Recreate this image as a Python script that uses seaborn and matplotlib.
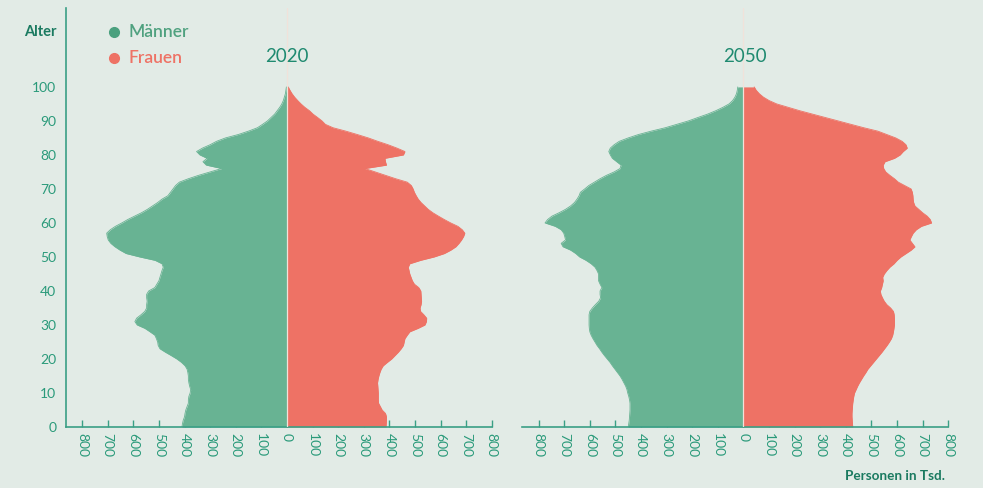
import numpy as np
import matplotlib
matplotlib.use("Agg")
import matplotlib.pyplot as plt
import seaborn as sns

# Bevölkerung nach Alter, Personen in Tsd.
ages = np.arange(0, 101)

men_2020 = [
    410, 408, 405, 400, 398, 395, 390, 385, 385, 383,
    378, 376, 380, 383, 385, 385, 387, 390, 398, 412,
    430, 452, 475, 496, 503, 505, 510, 516, 535, 555,
    585, 594, 587, 570, 555, 548, 548, 546, 548, 548,
    540, 516, 508, 500, 496, 492, 488, 483, 488, 515,
    575, 628, 652, 672, 688, 698, 702, 704, 690, 670,
    645, 622, 595, 568, 545, 525, 505, 488, 465, 455,
    445, 435, 420, 385, 345, 300, 255, 315, 328, 312,
    340, 353, 330, 300, 275, 240, 190, 150, 115, 95,
    76, 62, 48, 38, 28, 20, 14, 10, 6, 4,
    2,
]
women_2020 = [
    387, 388, 389, 389, 385, 372, 365, 358, 357, 357,
    357, 356, 355, 354, 356, 359, 363, 368, 376, 392,
    409, 422, 435, 446, 455, 458, 461, 470, 480, 512,
    539, 545, 546, 535, 522, 520, 524, 526, 525, 524,
    523, 515, 498, 490, 485, 480, 477, 474, 480, 522,
    575, 615, 640, 660, 672, 682, 690, 695, 685, 668,
    640, 615, 592, 570, 552, 538, 524, 513, 505, 498,
    493, 486, 470, 425, 385, 345, 305, 389, 385, 383,
    455, 461, 430, 395, 355, 318, 275, 230, 180, 150,
    137, 120, 102, 88, 70, 55, 42, 30, 20, 12,
    5,
]
men_2050 = [
    450, 448, 446, 445, 444, 443, 443, 443, 445, 448,
    452, 455, 460, 467, 474, 482, 492, 502, 512, 521,
    532, 543, 553, 562, 572, 580, 588, 595, 600, 602,
    603, 603, 603, 603, 600, 590, 578, 565, 558, 560,
    560, 553, 560, 566, 566, 566, 572, 580, 595, 615,
    640, 655, 675, 705, 712, 695, 698, 702, 712, 735,
    775, 765, 748, 720, 695, 675, 660, 650, 642, 637,
    620, 604, 582, 560, 535, 505, 482, 478, 495, 512,
    520, 526, 520, 505, 485, 450, 410, 360, 305, 260,
    215, 178, 140, 108, 80, 56, 42, 33, 27, 24,
    22,
]
women_2050 = [
    427, 426, 425, 424, 424, 425, 426, 427, 429, 431,
    434, 440, 446, 453, 461, 469, 478, 486, 497, 508,
    519, 530, 541, 551, 561, 570, 578, 583, 586, 588,
    590, 590, 590, 589, 586, 575, 560, 550, 543, 537,
    535, 540, 543, 546, 544, 550, 560, 572, 588, 600,
    615, 635, 655, 670, 660, 650, 656, 663, 675, 695,
    735, 730, 718, 700, 685, 670, 665, 663, 662, 660,
    655, 630, 605, 590, 572, 556, 548, 546, 553, 590,
    612, 624, 640, 635, 620, 595, 560, 525, 470, 420,
    370, 320, 270, 220, 175, 130, 100, 78, 62, 50,
    42,
]

years = ["2020", "2050"]
x_ticks = list(range(-800, 801, 100))
y_ticks = list(range(0, 101, 10))

BG = "#e2ebe6"
GREEN = "#68b393"
RED = "#ee7265"
TEAL = "#1f8a70"
SPINE = "#3a9f85"

sns.set_theme(style="white", rc={"axes.facecolor": BG, "figure.facecolor": BG})
plt.rcParams["font.family"] = ["Lato", "DejaVu Sans"]

fig = plt.figure(figsize=(9.83, 4.88), dpi=100)
ax1 = fig.add_axes([66 / 983, 61 / 488, 425.7 / 983, 419 / 488])
ax2 = fig.add_axes([522 / 983, 61 / 488, 426.2 / 983, 419 / 488])

data = [(ax1, men_2020, women_2020, -863), (ax2, men_2050, women_2050, -865)]
for ax, men, women, left in data:
    men = np.array(men)
    women = np.array(women)
    ax.fill_betweenx(ages, -men, 0, color=GREEN, lw=0)
    ax.fill_betweenx(ages, 0, women, color=RED, lw=0)
    sns.lineplot(x=-men, y=ages, orient="y", estimator=None, color=GREEN, lw=0.6, ax=ax)
    sns.lineplot(x=women, y=ages, orient="y", estimator=None, color=RED, lw=0.6, ax=ax)
    ax.axvline(0, color="#f1e2da", lw=0.9, zorder=3)
    ax.set_xlim(left, 800)
    ax.set_ylim(0, 123.2)
    ax.set_xlabel("")
    ax.set_ylabel("")
    ax.set_xticks(x_ticks)
    ax.set_xticklabels([str(abs(v)) for v in x_ticks])
    ax.tick_params(axis="x", direction="in", length=5, width=1, color=SPINE,
                   labelrotation=-90, labelsize=10, labelcolor="#2a9a7a", pad=4, bottom=True)
    for s in ["top", "right"]:
        ax.spines[s].set_visible(False)
    ax.spines["bottom"].set_color(SPINE)
    ax.spines["bottom"].set_linewidth(1.2)
    ax.spines["left"].set_color(SPINE)
    ax.spines["left"].set_linewidth(1.2)

ax1.set_yticks(y_ticks)
ax1.set_yticklabels([str(v) for v in y_ticks])
ax1.tick_params(axis="y", length=0, labelsize=10, labelcolor="#2a9a7a", pad=7)
ax2.spines["left"].set_visible(False)
ax2.set_yticks([])

# Titel der Jahre
fig.text(287 / 983, 1 - 57 / 488, years[0], ha="center", va="center", fontsize=13.5, color=TEAL)
fig.text(745 / 983, 1 - 57 / 488, years[1], ha="center", va="center", fontsize=13.5, color=TEAL)

# Achsentitel
fig.text(57 / 983, 1 - 32 / 488, "Alter", ha="right", va="center", fontsize=10.5,
         fontweight="bold", color="#1a7a60")
fig.text(945 / 983, 1 - 476 / 488, "Personen in Tsd.", ha="right", va="center", fontsize=9.7,
         fontweight="bold", color="#1a7a60")

# Legende
fig.lines.append(plt.Line2D([114 / 983], [1 - 32 / 488], marker="o", ms=7, color="#4aa07e",
                            lw=0, transform=fig.transFigure))
fig.lines.append(plt.Line2D([114 / 983], [1 - 58 / 488], marker="o", ms=7, color=RED,
                            lw=0, transform=fig.transFigure))
fig.text(128 / 983, 1 - 32 / 488, "Männer", ha="left", va="center", fontsize=12.5,
         fontweight="semibold", color="#4fa17f")
fig.text(128 / 983, 1 - 58 / 488, "Frauen", ha="left", va="center", fontsize=12.5,
         fontweight="semibold", color=RED)

fig.savefig("out.png", dpi=100, facecolor=BG)
